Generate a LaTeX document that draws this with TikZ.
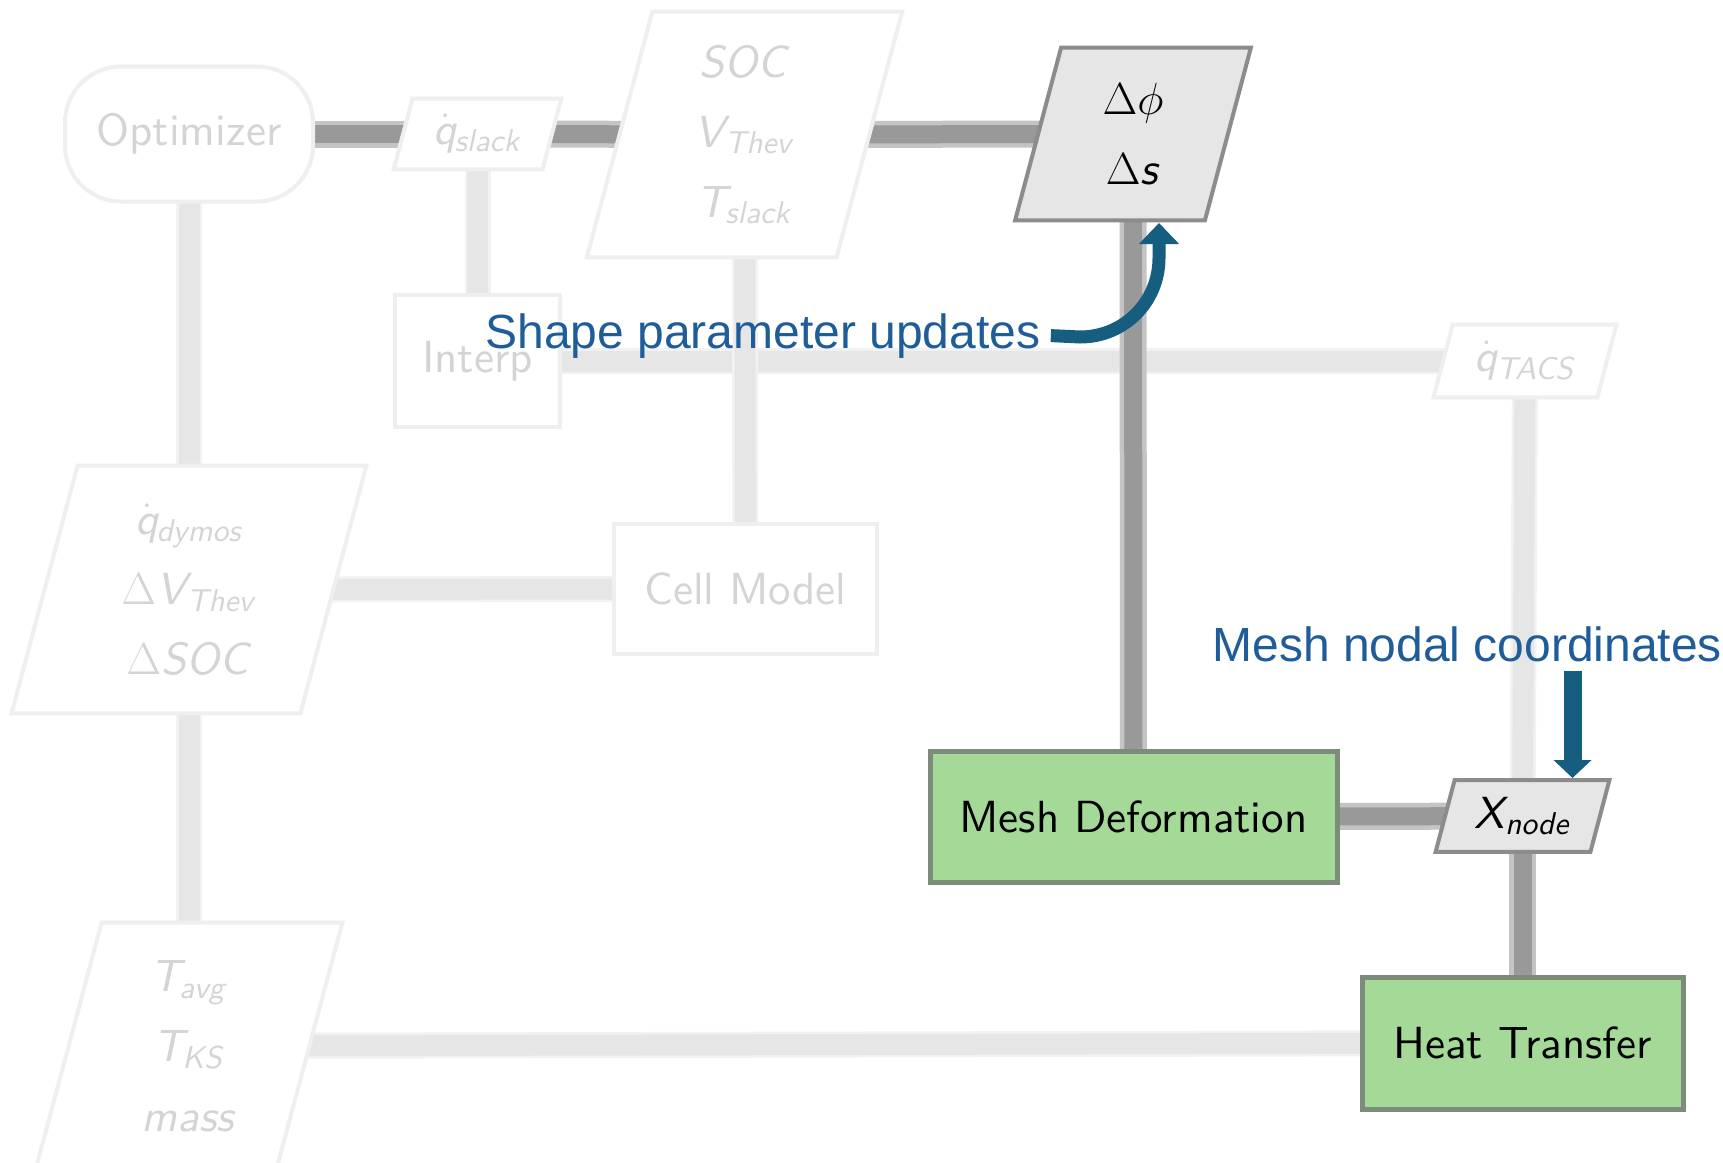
\RequirePackage{fix-cm}
\documentclass[tikz,border=0pt]{standalone}
\usepackage{fontspec}
\setsansfont{lmsans10-regular.otf}[ItalicFont=lmsans10-oblique.otf, BoldFont=lmsans10-bold.otf]
\newfontfamily\annfont{Liberation Sans}
\usetikzlibrary{arrows.meta}
\pgfdeclarelayer{lines}
\pgfdeclarelayer{boxes}
\pgfsetlayers{lines,boxes,main}
\definecolor{dlcore}{HTML}{999999}
\definecolor{dlfringe}{HTML}{C4C4C4}
\definecolor{llcore}{HTML}{E6E6E6}
\definecolor{llfringe}{HTML}{F2F2F2}
\definecolor{fadeborder}{HTML}{EFEFEF}
\definecolor{fadetext}{HTML}{D4D4D4}
\definecolor{actfill}{HTML}{E6E6E6}
\definecolor{actborder}{HTML}{8C8C8C}
\definecolor{greenfill}{RGB}{164,217,151}
\definecolor{greenborder}{RGB}{125,140,122}
\definecolor{anntext}{RGB}{31,92,154}
\definecolor{annarrow}{RGB}{21,94,128}
\newcommand{\paraoutline}[3]{%
  \begin{pgfonlayer}{boxes}
    \path[#3] ([xshift=-#2]#1.south west) -- ([xshift=-#2]#1.south east)
      -- ([xshift=#2]#1.north east) -- ([xshift=#2]#1.north west) -- cycle;
  \end{pgfonlayer}}
\newcommand{\vsub}[3][0.12em]{\textit{#2}\kern-#1\textsubscript{\textit{#3}}}
\newcommand{\qdot}[1]{$\dot{\mbox{\textit{q}}}$\kern-0.05em\textsubscript{\textit{#1}}}
\newcommand{\dlt}{$\Delta$}
\tikzset{
  boxfont/.style={font=\sffamily\fontsize{22.5}{35}\selectfont},
  fadedbox/.style={boxfont, draw=fadeborder, fill=white, line width=2pt, text=fadetext, inner sep=0pt, align=center},
  paranode/.style={boxfont, draw=none, inner sep=0pt, align=center},
  fadedpara/.style={paranode, text=fadetext},
  actpara/.style={paranode, text=black},
  greenbox/.style={boxfont, draw=greenborder, fill=greenfill, line width=2.5pt, text=black, inner sep=0pt},
  fadedoutline/.style={draw=fadeborder, fill=white, line width=2pt},
  actoutline/.style={draw=actborder, fill=actfill, line width=2pt},
  dline/.style={draw=dlfringe, line width=13.5pt, postaction={draw=dlcore, line width=9pt}},
  lline/.style={draw=llfringe, line width=13pt, postaction={draw=llcore, line width=10.5pt}},
  anntextstyle/.style={font=\annfont\fontsize{24}{28}\selectfont, text=anntext, inner sep=0pt},
  annarrowA/.style={draw=annarrow, line width=6.5pt, -{Triangle[width=19.5pt,length=10.5pt]}},
  annarrowB/.style={draw=annarrow, line width=9pt, -{Triangle[width=18.5pt,length=9pt]}},
}
\begin{document}
\begin{tikzpicture}[x=0.5pt,y=-0.5pt]
\useasboundingbox (0,0) rectangle (1723,1162);

% nodes
\node[fadedbox, rounded corners=28pt, minimum width=124pt, minimum height=67.5pt] (opt) at (189,134) {Optimizer};
\node[fadedpara, minimum width=74pt, minimum height=35pt] (qslack) at (477.5,134) {\qdot{slack}};
\node[fadedpara, minimum width=124.5pt, minimum height=122.5pt] (soc) at (744.5,134.5) {\textit{SOC}\\\vsub{V}{Thev}\\\vsub[0.15em]{T}{slack}};
\node[actpara, minimum width=94.5pt, minimum height=86pt] (dphi) at (1133,134) {$\Delta\phi$\\\dlt\textit{s}};
\node[fadedbox, minimum width=82.5pt, minimum height=66pt] (interp) at (477.5,361) {Interp};
\node[fadedpara, minimum width=81.5pt, minimum height=36pt] (qtacs) at (1525,361) {\qdot{TACS}};
\node[fadedpara, minimum width=144pt, minimum height=123.5pt] (qdymos) at (189,589.5) {\qdot{dymos}\\\dlt\vsub{V}{Thev}\\\dlt\textit{SOC}};
\node[fadedbox, minimum width=131.5pt, minimum height=65pt] (cell) at (745.5,589) {Cell Model};
\node[greenbox, minimum width=203.5pt, minimum height=65.5pt] (mesh) at (1133.5,817) {Mesh Deformation};
\node[actpara, minimum width=77pt, minimum height=35.5pt] (xnode) at (1522.5,816) {\vsub[0.08em]{X}{node}};
\node[fadedpara, minimum width=120pt, minimum height=123pt] (tbox) at (189,1046) {\vsub[0.15em]{T}{avg}\\\vsub[0.15em]{T}{KS}\\\textit{mass}};
\node[greenbox, minimum width=160.5pt, minimum height=66pt] (heat) at (1522.5,1043) {Heat Transfer};

% parallelogram outlines
\paraoutline{qslack}{4.7pt}{fadedoutline}
\paraoutline{soc}{16.4pt}{fadedoutline}
\paraoutline{dphi}{11.5pt}{actoutline}
\paraoutline{qtacs}{4.8pt}{fadedoutline}
\paraoutline{qdymos}{16.5pt}{fadedoutline}
\paraoutline{xnode}{4.75pt}{actoutline}
\paraoutline{tbox}{16.5pt}{fadedoutline}

% connectors
\begin{pgfonlayer}{lines}
\fill[white] (0,0) rectangle (1723,1162);
\draw[lline] (opt.center) -- (qdymos.center);
\draw[lline] (qdymos.center) -- (tbox.center);
\draw[lline] (qslack.center) -- (interp.center);
\draw[lline] (interp.center) -- (qtacs.center);
\draw[lline] (soc.center) -- (cell.center);
\draw[lline] (qdymos.center) -- (cell.center);
\draw[lline] (qtacs.center) -- (xnode.center);
\draw[lline] (tbox.center) -- (heat.center);
\draw[dline] (opt.center) -- (qslack.center);
\draw[dline] (qslack.center) -- (soc.center);
\draw[dline] (soc.center) -- (dphi.center);
\draw[dline] (dphi.center) -- (mesh.center);
\draw[dline] (mesh.center) -- (xnode.center);
\draw[dline] (xnode.center) -- (heat.center);
\end{pgfonlayer}

% annotations
\node[anntextstyle, anchor=base west] (ann1) at (485,348) {Shape parameter updates};
\coordinate (a1end) at (1159,223);
\draw[annarrowA] ([xshift=5pt]ann1.east) -- (1080,337) .. controls (1124,337) and (1159,302) .. (1159,258) -- (a1end);

\node[anntextstyle, anchor=base west] (ann2) at (1212,661) {Mesh nodal coordinates};
\coordinate (a2start) at (1572.5,671);
\coordinate (a2end) at (1572.5,778);
\draw[annarrowB] (a2start) -- (a2end);
\end{tikzpicture}
\end{document}
